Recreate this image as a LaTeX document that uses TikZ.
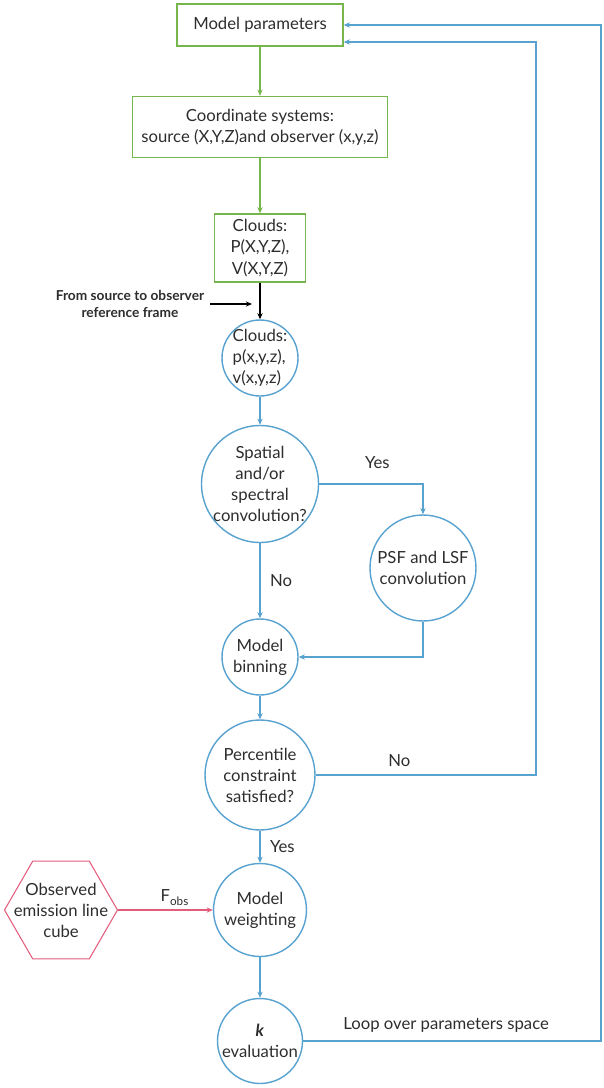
\documentclass[tikz,border=0pt]{standalone}
\usepackage{fontspec}
\setmainfont{Lato}
\usepackage{tikz}
\usetikzlibrary{arrows.meta, shapes.geometric, calc}

\definecolor{boxgreen}{RGB}{118,182,76}
\definecolor{flowblue}{RGB}{88,162,208}
\definecolor{obsred}{RGB}{226,92,124}
\definecolor{ink}{RGB}{45,45,45}

\begin{document}
\begin{tikzpicture}[
  x=0.02cm, y=-0.02cm,
  every node/.style={font=\fontsize{9.5}{12}\selectfont, text=ink},
  param/.style={rectangle, draw=boxgreen, line width=0.8pt, align=center, inner sep=0pt},
  stage/.style={circle, draw=flowblue, line width=0.8pt, inner sep=0pt, minimum size=#1},
  txt/.style={align=center, inner sep=0pt},
  flow/.style={-{Stealth[length=3.5pt, width=3pt]}, line width=0.8pt, color=#1},
  flow/.default=flowblue,
]
\useasboundingbox (0,0) rectangle (604,1088);

% --- Green boxes (top)
\node[param, minimum width=3.32cm, minimum height=0.84cm] (params) at (260,25) {Model parameters};
\node[param, minimum width=5.1cm, minimum height=1.22cm] (coord) at (260,127)
  {Coordinate systems:\\source (X,Y,Z)and observer (x,y,z)};
\node[param, minimum width=1.82cm, minimum height=1.36cm] (cloudsXYZ) at (260,248)
  {Clouds:\\P(X,Y,Z),\\V(X,Y,Z)};

% --- Frame change note
\node[font=\fontsize{7.8}{9.5}\selectfont\bfseries, align=center] (frame) at (130,304)
  {From source to observer\\reference frame};
\coordinate (hit) at (252,303);

% --- Blue stages
\node[stage=1.52cm] (cloudsxyz) at (260,358) {};
\node[txt, align=left] (cloudsxyz-t) at (cloudsxyz) {Clouds:\\p(x,y,z),\\v(x,y,z)};
\node[stage=2.34cm] (spatial) at (260,484) {};
\node[txt] (spatial-t) at (spatial) {Spatial\\and/or\\spectral\\convolution?};
\node[stage=2.12cm] (psf) at (423,568) {};
\node[txt] (psf-t) at (psf) {PSF and LSF\\convolution};
\node[stage=1.52cm] (binning) at (260,657) {};
\node[txt] (binning-t) at (binning) {Model\\binning};
\node[stage=2.2cm] (percentile) at (260,775) {};
\node[txt] (percentile-t) at (percentile) {Percentile\\constraint\\satisfied?};
\node[stage=1.86cm] (weighting) at (260,910) {};
\node[txt] (weighting-t) at (weighting) {Model\\weighting};
\node[stage=1.7cm] (keval) at (260,1041) {};
\node[txt] (keval-t) at (keval) {\textbf{\textit{k}}\\evaluation};

% --- Observed cube (red hexagon)
\node[regular polygon, regular polygon sides=6, draw=obsred, line width=0.6pt,
      minimum size=2.26cm, inner sep=0pt] (obs) at (61,910) {};
\node[txt] (obs-t) at (obs) {Observed\\emission line\\cube};

% --- Connectors
\draw[flow=boxgreen] (params.south) -- (coord.north);
\draw[flow=boxgreen] (coord.south) -- (cloudsXYZ.north);
\draw[flow=black] (cloudsXYZ.south) -- (cloudsxyz.north);
\draw[flow=black] (frame.east) -- (frame.east -| hit);
\draw[flow] (cloudsxyz.south) -- (spatial.north);
\draw[flow] (spatial.east) -| node[pos=0.28, above=5pt] (yes1) {Yes} (psf.north);
\draw[flow] (spatial.south) -- node[right=2pt] (no1) {No} (binning.north);
\draw[flow] (psf.south) |- (binning.east);
\draw[flow] (binning.south) -- (percentile.north);

% back to the parameters when the constraint fails
\coordinate (backA) at (536,42);
\draw[flow] (percentile.east) -| node[pos=0.19, above=1pt] (no2) {No} (backA)
  -- (params.east |- backA);

\draw[flow] (percentile.south) -- node[right=2pt] (yes2) {Yes} (weighting.north);
\draw[flow=obsred] (obs.east) -- node[pos=0.6, above=-1pt] (fobs) {F\textsubscript{obs}} (weighting.west);
\draw[flow] (weighting.south) -- (keval.north);

% loop over parameter space
\coordinate (backB) at (601,25);
\draw[flow] (keval.east) -| node[pos=0.24, above=1pt] (loop) {Loop over parameters space} (backB)
  -- (params.east);

\end{tikzpicture}
\end{document}
